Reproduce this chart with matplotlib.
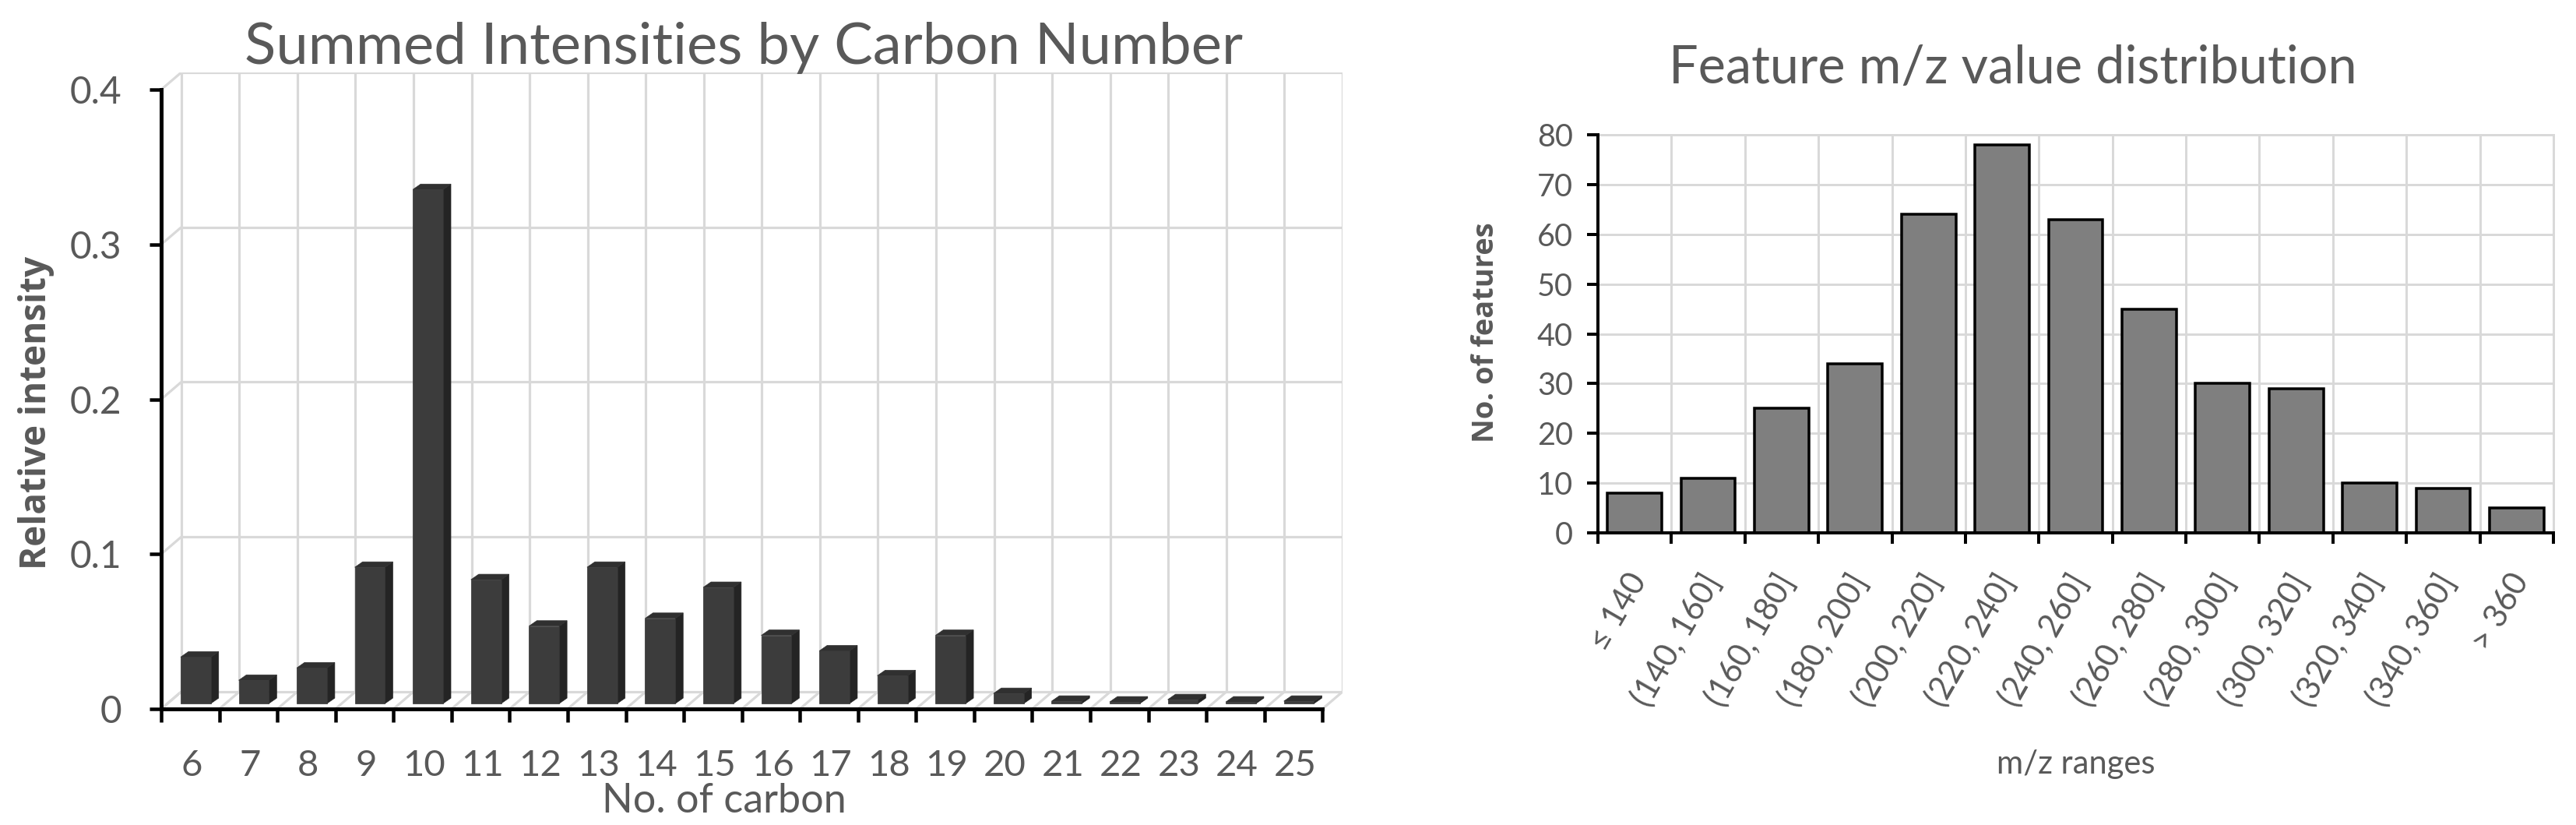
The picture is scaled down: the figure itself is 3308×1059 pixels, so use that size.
import numpy as np
import matplotlib.pyplot as plt
from matplotlib.patches import Polygon, Rectangle

W, H = 3308, 1059
DPI = 100

# ---- data ----
carbon_numbers = list(range(6, 26))
carbon_intensity = [0.030, 0.015, 0.023, 0.088, 0.332, 0.080, 0.050, 0.088, 0.055, 0.075,
                    0.044, 0.034, 0.018, 0.044, 0.0065, 0.0015, 0.001, 0.0025, 0.001, 0.0015]
intensity_ticks = [0, 0.1, 0.2, 0.3, 0.4]
intensity_tick_labels = ["0", "0.1", "0.2", "0.3", "0.4"]

mz_ranges = ["≤ 140", "(140, 160]", "(160, 180]", "(180, 200]", "(200, 220]", "(220, 240]",
             "(240, 260]", "(260, 280]", "(280, 300]", "(300, 320]", "(320, 340]",
             "(340, 360]", "> 360"]
mz_counts = [8, 11, 25, 34, 64, 78, 63, 45, 30, 29, 10, 9, 5]
count_ticks = list(range(0, 81, 10))

TEXT = "#595959"
GRID = "#d9d9d9"
FONT = ["Lato", "DejaVu Sans"]
LABEL_FONT = ["Open Sans", "DejaVu Sans"]


def px(v):
    """pixels -> points"""
    return v * 72 / DPI


def rect(x0, y0, x1, y1):
    return [x0 / W, 1 - y1 / H, (x1 - x0) / W, (y1 - y0) / H]


fig = plt.figure(figsize=(W / DPI, H / DPI), dpi=DPI)

# ================= left: pseudo 3D column chart =================
DX, DY = 0.345, 0.0111          # depth of the back wall
BX0, BW = 0.335, 0.52           # bar front face inside a category
BDX, BDY = 0.134, 0.0035        # bar depth
BASE = 0.0035

n = len(carbon_numbers)
ax1 = fig.add_axes(rect(207, 93, 1724, 910))
ax1.set_xlim(0, n + DX)
ax1.set_ylim(0, 0.4 + DY)

gkw = dict(color=GRID, lw=px(3.2), zorder=1, solid_capstyle="butt")
for v in intensity_ticks:
    ax1.plot([DX, n + DX], [v + DY, v + DY], **gkw)
    ax1.plot([0, DX], [v, v + DY], **gkw)
for i in range(n + 1):
    ax1.plot([i + DX, i + DX], [DY, 0.4 + DY], **gkw)
    ax1.plot([i, i + DX], [0, DY], **gkw)

for i, v in enumerate(carbon_intensity):
    x0 = i + BX0
    x1 = x0 + BW
    top = BASE + v
    ax1.add_patch(Polygon([(x1, BASE), (x1 + BDX, BASE + BDY), (x1 + BDX, top + BDY), (x1, top)],
                          closed=True, fc="#242424", ec="#242424", lw=0.5, zorder=3))
    ax1.add_patch(Polygon([(x0, top), (x1, top), (x1 + BDX, top + BDY), (x0 + BDX, top + BDY)],
                          closed=True, fc="#303030", ec="#303030", lw=0.5, zorder=3))
    ax1.add_patch(Rectangle((x0, BASE), BW, v, fc="#3c3c3c", ec="#333333", lw=0.5, zorder=4))

for s in ["top", "right"]:
    ax1.spines[s].set_visible(False)
for s in ["left", "bottom"]:
    ax1.spines[s].set_linewidth(px(5))
    ax1.spines[s].set_color("black")
    ax1.spines[s].set_zorder(5)
ax1.spines["left"].set_bounds(0, 0.4)
ax1.spines["bottom"].set_bounds(0, n)

ax1.set_yticks(intensity_ticks)
ax1.set_yticklabels(intensity_tick_labels, fontsize=34.5, family=FONT, color=TEXT)
ax1.tick_params(axis="y", length=px(15), width=px(4.5), pad=px(36), color="black")

ax1.set_xticks([i + 0.53 for i in range(n)])
ax1.set_xticklabels([str(c) for c in carbon_numbers], fontsize=34, family=FONT, color=TEXT)
ax1.set_xticks(range(n + 1), minor=True)
ax1.tick_params(axis="x", which="major", length=0, pad=px(52))
ax1.tick_params(axis="x", which="minor", length=px(17), width=px(4.5), color="black")

fig.text(955 / W, 1 - 82 / H, "Summed Intensities by Carbon Number", ha="center",
         va="baseline", fontsize=53.5, family=FONT, color=TEXT)
fig.text(930 / W, 1 - 1043 / H, "No. of carbon", ha="center", va="baseline",
         fontsize=37.5, family=FONT, color=TEXT)
fig.text(47 / W, 1 - 530 / H, "Relative intensity", ha="center", va="center",
         rotation=90, fontsize=33, family=LABEL_FONT, fontweight="bold", color=TEXT)

# ================= right: histogram style bar chart =================
m = len(mz_ranges)
ax2 = fig.add_axes(rect(2052, 173, 3279, 684))
ax2.set_xlim(0, m)
ax2.set_ylim(0, 80)

for v in count_ticks[1:]:
    ax2.axhline(v, color=GRID, lw=px(3), zorder=1)
for i in range(1, m + 1):
    ax2.axvline(i, color=GRID, lw=px(3), zorder=1)

ax2.bar(np.arange(m) + 0.5, mz_counts, width=0.74, color="#7f7f7f",
        edgecolor="black", linewidth=px(3.5), zorder=3)

for s in ["top", "right"]:
    ax2.spines[s].set_color(GRID)
    ax2.spines[s].set_linewidth(px(3))
for s in ["left", "bottom"]:
    ax2.spines[s].set_color("black")
    ax2.spines[s].set_linewidth(px(4))
    ax2.spines[s].set_zorder(5)

ax2.set_yticks(count_ticks)
ax2.set_yticklabels([str(c) for c in count_ticks], fontsize=28.5, family=FONT, color=TEXT)
ax2.tick_params(axis="y", length=px(14), width=px(4), pad=px(18), color="black")

ax2.set_xticks(np.arange(m) + 0.39)
ax2.set_xticklabels(mz_ranges, fontsize=30, family=FONT, color=TEXT)
plt.setp(ax2.get_xticklabels(), rotation=60, ha="right", va="top", rotation_mode="anchor")
ax2.set_xticks(range(m + 1), minor=True)
ax2.tick_params(axis="x", which="major", length=0, pad=px(46))
ax2.tick_params(axis="x", which="minor", length=px(14), width=px(4), color="black")

fig.text(2585 / W, 1 - 107 / H, "Feature m/z value distribution", ha="center",
         va="baseline", fontsize=48, family=FONT, color=TEXT)
fig.text(2666 / W, 1 - 993 / H, "m/z ranges", ha="center", va="baseline",
         fontsize=30, family=FONT, color=TEXT)
fig.text(1908 / W, 1 - 427 / H, "No. of features", ha="center", va="center",
         rotation=90, fontsize=27.4, family=LABEL_FONT, fontweight="bold", color=TEXT)

fig.savefig("out.png", dpi=DPI)
